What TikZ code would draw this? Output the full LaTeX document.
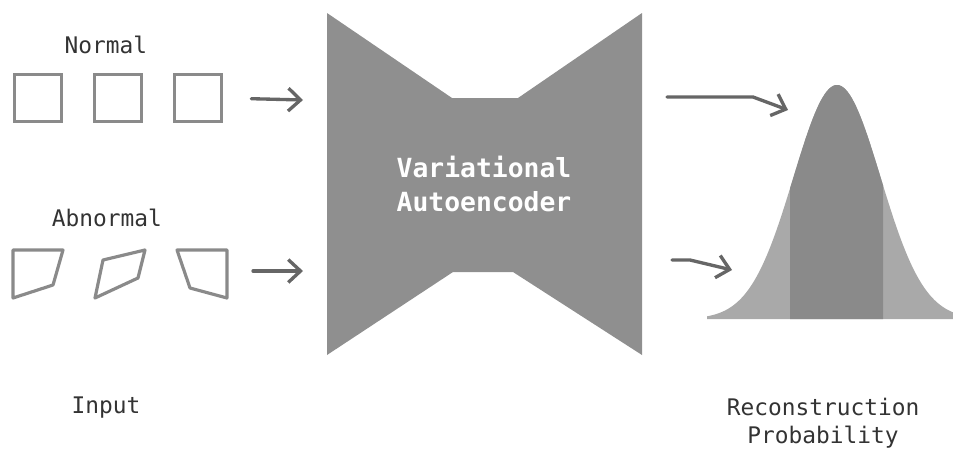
\documentclass[tikz,border=0pt]{standalone}
\usepackage{fontspec}
\setmonofont{DejaVu Sans Mono}
\usetikzlibrary{arrows.meta,positioning}

\definecolor{outline}{HTML}{8A8A8A}
\definecolor{ink}{HTML}{333333}
\definecolor{arrowgray}{HTML}{666666}
\definecolor{netgray}{HTML}{8F8F8F}
\definecolor{taillight}{HTML}{A9A9A9}
\definecolor{coredark}{HTML}{8A8A8A}

\begin{document}
\begin{tikzpicture}[x=0.02cm, y=-0.02cm, font=\ttfamily, node distance=0.6cm]
\tikzstyle{sq}=[rectangle, draw=outline, line width=1.8pt, minimum size=0.94cm, inner sep=0pt]
\tikzstyle{quad}=[draw=outline, line width=1.8pt, line join=round]
\tikzstyle{lbl}=[text=ink, font=\ttfamily\fontsize{13}{16}\selectfont, align=center]
\tikzstyle{arr}=[draw=arrowgray, line width=1.9pt, line cap=round, line join=round, -{Straight Barb[length=7pt, width=13pt, line width=1.9pt]}]
\useasboundingbox (0,0) rectangle (953,450);

% input samples
\node[sq] (normalA) at (38,98) {};
\node[sq, right=of normalA] (normalB) {};
\node[sq, right=of normalB] (normalC) {};
\node[lbl] (normal) at (106,45) {Normal};

\draw[quad] (13,250) -- (63,250) -- (53,285) -- (13,298) -- cycle;
\draw[quad] (103,260) -- (145,250) -- (138,278) -- (95,298) -- cycle;
\draw[quad] (177,250) -- (227,250) -- (227,298) -- (190,288) -- cycle;
\coordinate (abnormalC) at (227,271);
\node[lbl] (abnormal) at (107,218) {Abnormal};

\node[lbl] (input) at (106,408) {Input};

% encoder / decoder
\fill[netgray] (327,13) -- (452,98) -- (518,98) -- (642,13) -- (642,355)
  -- (513,272) -- (453,272) -- (327,355) -- cycle;
\node[text=white, font=\ttfamily\bfseries\fontsize{15}{19}\selectfont, align=center] (vae) at (484,184) {Variational\\Autoencoder};
\coordinate (vaeTop) at (303,100);
\coordinate (vaeBot) at (303,271);

\draw[arr, shorten <=0.56cm] (normalC.east) -- (vaeTop);
\draw[arr, shorten <=0.52cm] (abnormalC) -- (vaeBot);

% reconstruction probability
\fill[taillight] (707,319) -- plot[domain=707:953, samples=120] (\x,{319-234*exp(-((\x-837)/43.5)^2/2)}) -- (953,319) -- cycle;
\begin{scope}
\clip (790,0) rectangle (883,330);
\fill[coredark] (707,319) -- plot[domain=707:953, samples=120] (\x,{319-234*exp(-((\x-837)/43.5)^2/2)}) -- (953,319) -- cycle;
\end{scope}
\node[lbl] (recon) at (823,423) {Reconstruction\\Probability};

\coordinate (outTop) at (667,97);
\coordinate (pdfTop) at (788,110);
\coordinate (outBot) at (672,260);
\coordinate (pdfBot) at (732,270);
\draw[arr] (outTop) -- (753,97) -- (pdfTop);
\draw[arr] (outBot) -- (690,260) -- (pdfBot);
\end{tikzpicture}
\end{document}
